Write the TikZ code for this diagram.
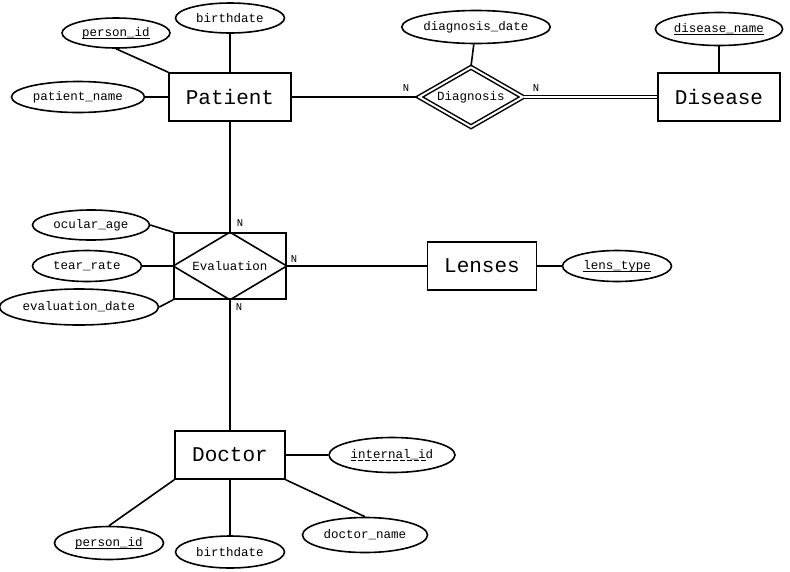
\documentclass[tikz,border=0pt]{standalone}
\usepackage{fontspec}
\setmainfont{Liberation Mono}
\usetikzlibrary{shapes.geometric}
\newcommand\pkey[1]{\setbox0\hbox{#1}\rlap{\rule[-2.6pt]{\wd0}{1.3pt}}\box0}
\newcommand\dkey[1]{\setbox0\hbox{#1}\rlap{\hbox to \wd0{\leaders\hbox to 7pt{\rule[-2.6pt]{5pt}{1.3pt}\hss}\hfill}}\box0}
\begin{document}
\begin{tikzpicture}[x=1pt,y=-1pt,
  every path/.style={line width=1.6pt},
  ent/.style={draw,line width=1.6pt,minimum width=#1,minimum height=48pt,inner sep=0pt,font=\fontsize{21}{24}\selectfont},
  ent/.default=122pt,
  attr/.style={draw,ellipse,line width=1.6pt,inner sep=0pt,font=\fontsize{12.5}{14}\selectfont},
  card/.style={font=\fontsize{10.5}{12}\selectfont,inner sep=0pt}]
\useasboundingbox (0,0) rectangle (790,571);
% Patient
\node[ent] (pat) at (230,97) {Patient};
\node[attr,minimum width=108pt,minimum height=30pt] (pid) at (116,33) {\pkey{person\_id}};
\node[attr,minimum width=109pt,minimum height=30pt] (pbd) at (230,18) {birthdate};
\node[attr,minimum width=133pt,minimum height=31pt] (pnm) at (78,97) {patient\_name};
\draw (pid.south) -- (pat.north west);
\draw (pbd) -- (pat);
\draw (pnm) -- (pat);
% Diagnosis
\node[draw,diamond,aspect=1.7,double,double distance=2pt,line width=1.5pt,minimum width=104pt,minimum height=60pt,inner sep=0pt,font=\fontsize{12.5}{14}\selectfont] (diag) at (471,97) {Diagnosis};
\node[attr,minimum width=148pt,minimum height=33pt] (ddt) at (476,27) {diagnosis\_date};
\draw (ddt) -- (diag.north);
\node[ent] (dis) at (719,97) {Disease};
\node[attr,minimum width=124pt,minimum height=33pt] (dnm) at (719,29) {\pkey{disease\_name}};
\draw (dnm) -- (dis);
\draw (pat) -- (diag.west);
\draw[double,double distance=2pt,line width=1.4pt] (diag.east) -- (dis.west);
\node[card,anchor=south] at (406,92) {N};
\node[card,anchor=south] at (536,92) {N};
% Evaluation
\node[draw,line width=1.6pt,minimum width=112pt,minimum height=66pt,inner sep=0pt,font=\fontsize{12.5}{14}\selectfont] (eval) at (230,266) {Evaluation};
\draw (eval.west) -- (eval.north) -- (eval.east) -- (eval.south) -- cycle;
\node[attr,minimum width=117pt,minimum height=30pt] (oca) at (91,225) {ocular\_age};
\node[attr,minimum width=109pt,minimum height=31pt] (tra) at (87,266) {tear\_rate};
\node[attr,minimum width=155pt,minimum height=36pt] (evd) at (79,307) {evaluation\_date};
\draw (oca.east) -- (eval.north west);
\draw (tra) -- (eval.west);
\draw (evd.east) -- (eval.south west);
\draw (pat) -- (eval.north);
\node[card,anchor=south west] at (236,227) {N};
% Lenses
\node[ent=109pt] (len) at (482,266) {Lenses};
\node[attr,minimum width=109pt,minimum height=31pt] (lty) at (617,266) {\pkey{lens\_type}};
\draw (eval.east) -- (len);
\draw (len) -- (lty);
\node[card,anchor=south west] at (290,263) {N};
% Doctor
\node[ent=110pt] (doc) at (230,455) {Doctor};
\draw (eval.south) -- (doc);
\node[card,anchor=north west] at (235,303) {N};
\node[attr,minimum width=126pt,minimum height=35pt] (iid) at (392,455) {\dkey{internal\_id}};
\node[attr,minimum width=109pt,minimum height=33pt] (did) at (109,543) {\pkey{person\_id}};
\node[attr,minimum width=109pt,minimum height=32pt] (dbd) at (230,552) {birthdate};
\node[attr,minimum width=125pt,minimum height=35pt] (dnm2) at (365,535) {doctor\_name};
\draw (doc) -- (iid);
\draw (doc.south west) -- (did.north);
\draw (doc) -- (dbd);
\draw (doc.south east) -- (dnm2.north);
\end{tikzpicture}
\end{document}
